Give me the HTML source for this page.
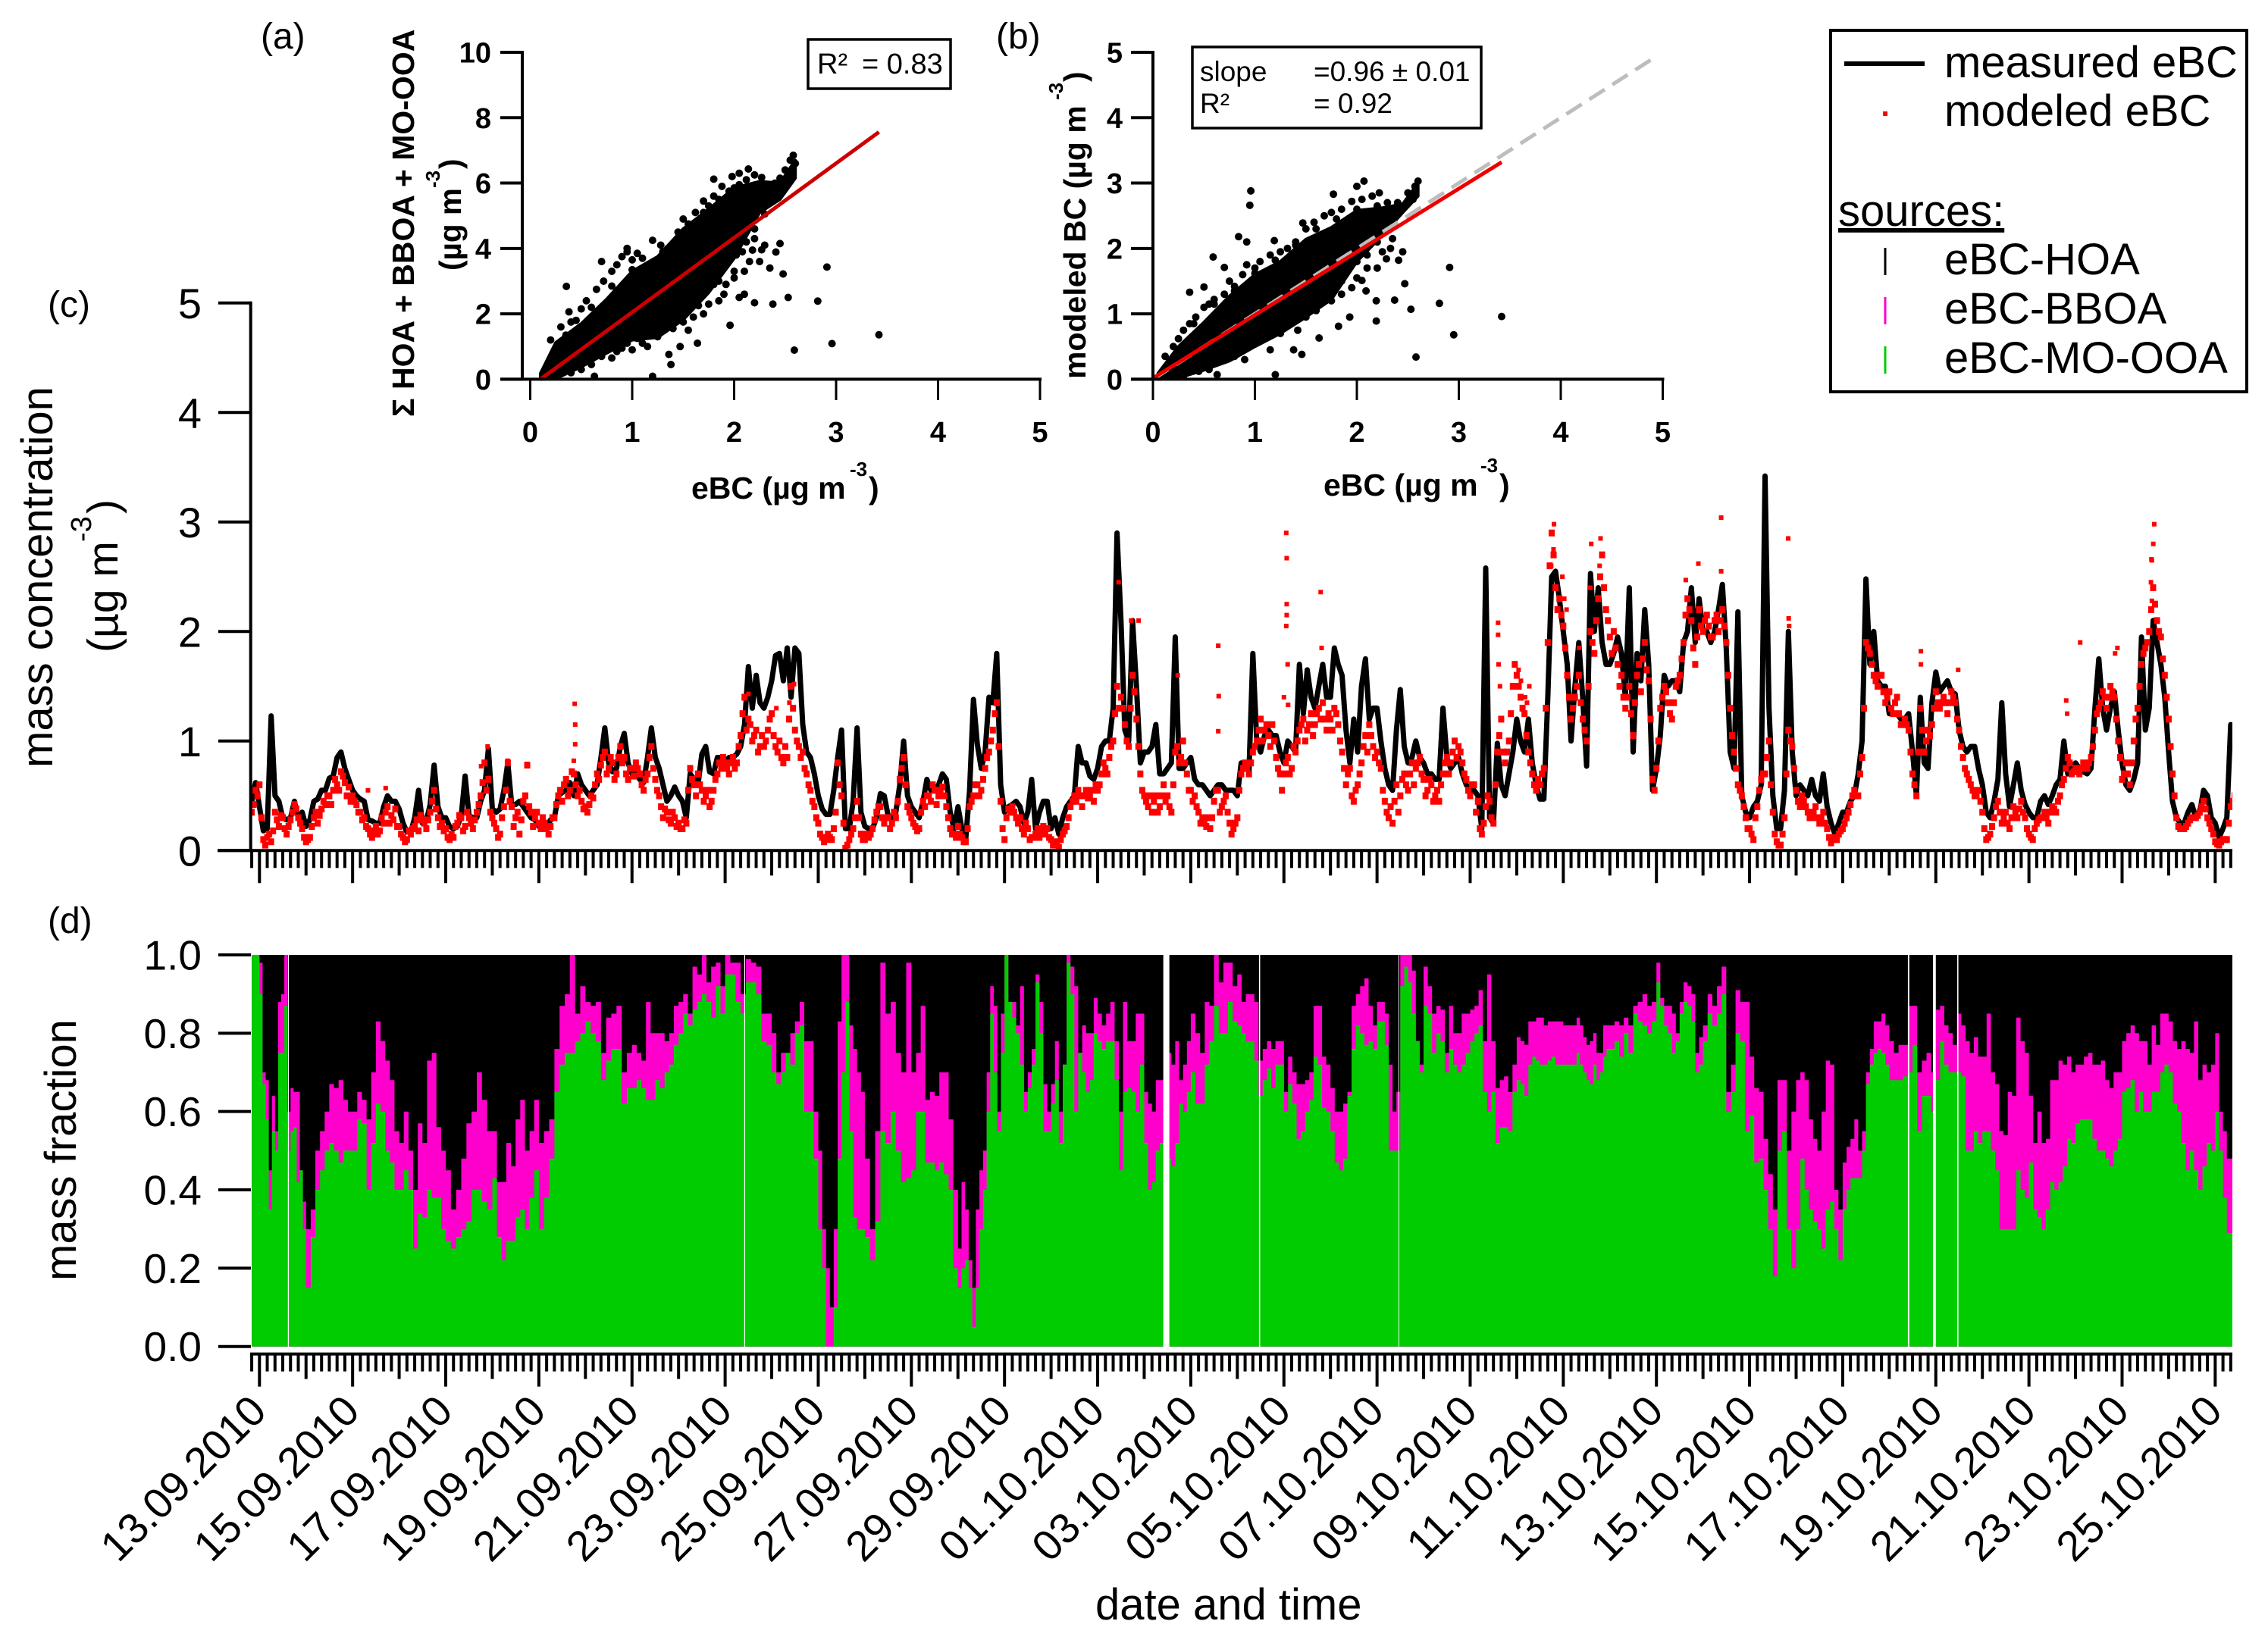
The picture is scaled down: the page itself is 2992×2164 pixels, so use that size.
<!DOCTYPE html>
<html lang="en">
<head>
<meta charset="utf-8">
<title>eBC source apportionment</title>
<style>
html,body{margin:0;padding:0;background:#fff}
svg{display:block}
text{font-family:"Liberation Sans",sans-serif;fill:#000}
.b{font-weight:bold}
</style>
</head>
<body>
<svg id="fig" xmlns="http://www.w3.org/2000/svg" width="2992" height="2164" viewBox="0 0 2992 2164">
<defs>
<clipPath id="clipTime"><rect x="330" y="300" width="2615" height="1500"/></clipPath>
</defs>
<rect width="2992" height="2164" fill="#fff"/>

<g id="panelD" clip-path="url(#clipTime)"></g>
<g id="panelDAxes"></g>
<g id="panelC" clip-path="url(#clipTime)"></g>
<g id="panelCAxes"></g>
<g id="panelA"></g>
<g id="panelB"></g>

<text x="344" y="64" font-size="48">(a)</text>
<text x="1314" y="64" font-size="48">(b)</text>
<text x="63" y="418" font-size="48">(c)</text>
<text x="63" y="1231" font-size="48">(d)</text>

<text class="b" font-size="41" transform="translate(546,550) rotate(-90)">Σ HOA + BBOA + MO-OOA</text>
<text class="b" font-size="40.5" transform="translate(608,357) rotate(-90)">(µg m</text>
<text class="b" font-size="26" transform="translate(580,248) rotate(-90)">-3</text>
<text class="b" font-size="40.5" transform="translate(608,223) rotate(-90)">)</text>
<text class="b" font-size="41" x="912" y="658">eBC (µg m</text>
<text class="b" font-size="26" x="1121" y="628">-3</text>
<text class="b" font-size="41" x="1146" y="658">)</text>

<text class="b" font-size="41" transform="translate(1432,500) rotate(-90)">modeled BC (µg m</text>
<text class="b" font-size="26" transform="translate(1402,132) rotate(-90)">-3</text>
<text class="b" font-size="40.5" transform="translate(1432,108) rotate(-90)">)</text>
<text class="b" font-size="41" x="1746" y="654">eBC (µg m</text>
<text class="b" font-size="26" x="1953" y="623">-3</text>
<text class="b" font-size="41" x="1978" y="654">)</text>

<rect x="1066" y="52" width="188" height="65" fill="#fff" stroke="#000" stroke-width="3.5"/>
<text x="1078" y="97" font-size="38">R²</text>
<text x="1137" y="97" font-size="38">= 0.83</text>

<rect x="1573" y="62" width="381" height="107" fill="#fff" stroke="#000" stroke-width="3.5"/>
<text x="1583" y="107" font-size="37">slope</text>
<text x="1733" y="107" font-size="37">=0.96 ± 0.01</text>
<text x="1583" y="149" font-size="37">R²</text>
<text x="1733" y="149" font-size="37">= 0.92</text>

<text font-size="58" transform="translate(69,1013) rotate(-90)">mass concentration</text>
<text font-size="57" transform="translate(155,861) rotate(-90)">(µg m</text>
<text font-size="38" transform="translate(120,715) rotate(-90)">-3</text>
<text font-size="57" transform="translate(155,678) rotate(-90)">)</text>
<text font-size="58" transform="translate(100,1690) rotate(-90)">mass fraction</text>
<text font-size="58" x="1445" y="2137">date and time</text>

<g>
<rect x="2415" y="40" width="549" height="477" fill="#fff" stroke="#000" stroke-width="4"/>
<line x1="2433" x2="2539" y1="84" y2="84" stroke="#000" stroke-width="6"/>
<text x="2565" y="102" font-size="58">measured eBC</text>
<rect x="2484" y="147" width="6" height="6" fill="#f00"/>
<text x="2565" y="166" font-size="58">modeled eBC</text>
<text x="2425" y="298" font-size="58" text-decoration="underline">sources:</text>
<line x1="2487" x2="2487" y1="327" y2="363" stroke="#000" stroke-width="3"/>
<text x="2565" y="362" font-size="58">eBC-HOA</text>
<line x1="2487" x2="2487" y1="392" y2="428" stroke="#f0c" stroke-width="3"/>
<text x="2565" y="427" font-size="58">eBC-BBOA</text>
<line x1="2487" x2="2487" y1="457" y2="493" stroke="#0c0" stroke-width="3"/>
<text x="2565" y="492" font-size="58">eBC-MO-OOA</text>
</g>
</svg>
<script>
// ---------- panel (c): rows are days; row 0 is the 4 h before 13.09.2010, last row is 25.10.2010
const measuredByDay = [
[.45,.62],
[.4,.18,.2,1.23,.5,.45,.3,.28,.3,.45,.3,.35],
[.22,.28,.45,.47,.55,.55,.66,.68,.85,.9,.75,.65],
[.55,.5,.47,.45,.28,.27,.25,.25,.4,.5,.45,.45],
[.38,.25,.17,.17,.3,.55,.25,.27,.42,.78,.4,.3],
[.3,.22,.2,.22,.32,.68,.32,.3,.3,.45,.55,.93],
[.38,.35,.38,.55,.8,.42,.42,.45,.4,.35,.3,.28],
[.22,.2,.2,.28,.3,.5,.53,.55,.62,.5,.7,.6],
[.55,.5,.55,.6,.85,1.12,.8,.72,.75,.95,1.07,.8],
[.7,.7,.65,.62,.85,1.12,.85,.75,.6,.45,.5,.58],
[.5,.45,.3,.7,.65,.6,.88,.95,.72,.7,.85,.85],
[.8,.85,.85,.88,.95,1.15,1.68,1.3,1.6,1.35,1.3,1.4],
[1.55,1.78,1.8,1.55,1.85,1.4,1.85,1.8,1.15,.9,.85,.7],
[.5,.38,.33,.33,.55,.85,1.1,.2,.2,.45,1.12,.35],
[.22,.2,.2,.3,.52,.5,.32,.3,.35,.6,1.0,.5],
[.4,.35,.3,.45,.65,.55,.55,.6,.7,.65,.35,.2],
[.4,.2,.1,.55,1.38,.97,.75,.9,1.4,1.35,1.8,.6],
[.35,.4,.42,.45,.4,.25,.35,.65,.2,.35,.45,.45],
[.2,.3,.15,.3,.4,.45,.5,.95,.8,.8,.68,.65],
[.75,.95,1.0,1.0,1.3,2.9,2.1,1.1,1.0,2.1,1.5,.8],
[.9,.9,.95,1.15,.7,.7,.75,.8,1.95,.75,.75,.8],
[.85,.65,.6,.6,.55,.5,.55,.6,.6,.55,.55,.55],
[.5,.8,.8,.72,1.8,1.0,.9,1.05,1.1,1.05,1.05,.9],
[.8,1.0,.95,.9,1.7,1.25,1.65,1.4,1.3,1.5,1.7,1.4],
[1.4,1.85,1.7,1.6,1.1,.8,1.2,.9,1.5,1.75,1.2,1.3],
[1.3,1.0,.75,.6,.55,1.1,1.47,.95,.8,.85,1.0,.85],
[.8,.7,.7,.65,.65,1.3,.85,.75,.8,.85,.7,.6],
[.55,.55,.5,.2,2.58,.3,.25,.98,.6,.5,.7,.9],
[1.2,1.0,.9,1.2,.8,.6,.47,.47,1.4,2.5,2.55,2.3],
[2.0,1.7,1.0,1.5,1.9,1.4,.77,2.53,2.0,2.4,1.9,1.7],
[1.7,1.8,1.95,1.8,1.4,2.4,.9,1.8,1.55,2.2,1.7,.55],
[.75,1.05,1.6,1.5,1.55,1.55,1.45,1.9,2.0,2.4,1.9,2.3],
[2.0,2.0,1.9,2.0,2.2,2.43,1.85,.9,.75,2.18,.5,.35],
[.3,.4,.45,.6,3.42,1.3,.5,.2,.2,.55,2.0,.9],
[.5,.6,.55,.5,.65,.5,.45,.7,.4,.25,.15,.25],
[.35,.35,.45,.5,.7,1.0,2.48,1.7,2.0,1.55,1.5,1.5],
[1.25,1.25,1.25,1.2,1.2,1.25,.9,.5,1.4,.8,.75,1.35],
[1.63,1.45,1.5,1.55,1.45,1.43,1.1,.95,.9,.95,.95,.75],
[.6,.35,.3,.45,.65,1.35,.7,.4,.6,.8,.55,.42],
[.35,.3,.3,.45,.5,.42,.5,.6,.65,1.0,.7,.75],
[.8,.75,.72,.7,.75,1.3,1.75,1.3,1.1,1.3,1.45,1.1],
[.8,.6,.55,.65,.8,1.95,1.1,1.3,2.1,1.9,1.7,1.4],
[.9,.45,.3,.25,.25,.35,.42,.3,.35,.55,.5,.3],
[.25,.12,.2,.3,1.15,1.1]
];
const modeledByDay = [
[.35,.55],
[.6,.1,.12,.08,.35,.22,.3,.15,.28,.42,.3,.2],
[.08,.12,.3,.25,.38,.42,.5,.55,.6,.72,.62,.58],
[.5,.42,.35,.3,.2,.12,.22,.18,.25,.4,.32,.38],
[.22,.12,.1,.15,.22,.18,.28,.2,.35,.55,.3,.25],
[.2,.1,.12,.25,.3,.22,.3,.2,.35,.5,.8,.65],
[.3,.2,.15,.4,.8,.4,.3,.15,.45,.78,.35,.3],
[.25,.3,.2,.22,.3,.5,.45,.65,.55,.7,.5,.45],
[.4,.42,.48,.7,.78,.9,.75,.8,.7,.95,.85,.65],
[.75,.8,.7,.55,.7,.95,.65,.5,.3,.35,.25,.3],
[.25,.2,.25,.75,.6,.7,.55,.5,.4,.55,.7,.75],
[.8,.7,.85,.8,1.05,1.4,1.2,1.0,1.1,.95,.95,1.1],
[1.25,.95,1.0,.8,.85,1.5,1.1,.95,.9,.7,.55,.4],
[.25,.12,.1,.12,.2,.8,.5,.02,.1,.2,.45,.15],
[.1,.12,.2,.35,.4,.25,.3,.25,.3,.65,.85,.4],
[.3,.22,.2,.45,.5,.45,.55,.5,.58,.4,.2,.15],
[.22,.12,.08,.4,.5,.6,.55,.75,.9,1.1,1.35,.45],
[.1,.38,.4,.3,.3,.15,.2,.12,.15,.12,.22,.2],
[.1,.08,.03,.15,.22,.4,.5,.55,.4,.55,.5,.45],
[.55,.7,.75,.85,1.0,1.5,1.4,1.15,.95,1.6,1.2,.7],
[.5,.4,.35,.5,.4,.6,.5,.35,.9,.8,1.0,.7],
[.55,.5,.35,.3,.22,.2,.45,.55,.4,.5,.25,.2],
[.3,.7,.8,.7,.9,1.0,1.2,1.1,1.05,1.15,.85,.7],
[.7,.85,.75,.9,1.1,1.2,1.1,1.25,1.15,1.3,1.35,1.1],
[1.2,1.3,1.15,.9,.6,.75,.45,.6,.8,1.05,1.15,.95],
[.9,.75,.45,.3,.25,.6,.5,.7,.55,.8,.75,.85],
[.65,.55,.6,.5,.45,.7,.85,.8,1.0,.95,.8,.65],
[.5,.6,.45,.15,.4,.45,.25,.9,1.2,.8,1.0,1.5],
[1.6,1.4,1.25,.9,.7,.55,.6,.75,1.9,2.9,2.4,2.3],
[2.05,1.6,1.2,1.4,1.6,1.2,1.0,2.0,1.8,2.3,2.7,2.2],
[1.95,2.0,1.7,1.6,1.3,1.5,1.05,1.6,1.45,1.9,1.55,.65],
[.75,1.3,1.5,1.35,1.2,1.5,1.6,1.9,2.3,2.1,1.7,2.2],
[2.0,2.15,1.95,2.1,2.0,2.2,1.9,1.3,.9,.6,.5,.3],
[.2,.1,.4,.65,.7,1.0,.35,.08,.05,.3,1.1,.95],
[.55,.4,.45,.35,.3,.4,.25,.35,.2,.07,.12,.15],
[.2,.3,.42,.55,.5,.85,1.9,1.8,1.6,1.5,1.6,1.35],
[1.45,1.25,1.4,1.15,1.2,1.1,.7,.5,1.3,.9,1.1,1.15],
[1.45,1.3,1.4,1.25,1.45,1.35,1.1,.85,.7,.6,.5,.55],
[.35,.1,.15,.3,.45,.25,.35,.2,.4,.3,.45,.3],
[.15,.1,.25,.3,.35,.25,.4,.35,.5,.65,.85,.7],
[.75,.7,.8,.75,.85,1.1,1.3,1.45,1.3,1.5,1.4,1.0],
[.65,.8,.6,1.0,1.3,1.7,1.85,2.0,2.4,2.1,1.95,1.6],
[1.2,.7,.3,.2,.2,.25,.3,.3,.35,.45,.3,.2],
[.08,.05,.1,.1,.4,.5]
];
// modeled readings taken one hour after those in modeledByDay
const modeledBetweenByDay = [
[.42,.5],
[.3,.05,.15,.18,.28,.32,.2,.22,.35,.38,.25,.12],
[.1,.22,.35,.32,.45,.5,.42,.65,.55,.68,.5,.45],
[.45,.35,.28,.22,.15,.18,.15,.3,.35,.25,.28,.22],
[.15,.08,.18,.2,.28,.32,.25,.28,.45,.38,.22,.18],
[.12,.15,.22,.32,.18,.35,.25,.28,.42,.62,.55,.35],
[.25,.12,.3,.55,.45,.22,.35,.28,.5,.4,.22,.35],
[.2,.25,.15,.3,.42,.55,.6,.5,.72,.6,.55,.38],
[.35,.5,.6,.65,.85,.7,.85,.65,.85,.8,.7,.75],
[.68,.75,.6,.65,.85,.75,.55,.4,.38,.28,.35,.22],
[.2,.28,.55,.65,.5,.6,.45,.55,.45,.65,.8,.85],
[.75,.8,.75,.95,1.25,1.1,1.15,1.05,.9,1.05,1.0,1.2],
[1.05,.9,.85,.95,1.2,1.3,1.0,.85,.75,.6,.45,.3],
[.15,.08,.15,.1,.35,.6,.25,.05,.15,.3,.3,.1],
[.15,.15,.28,.4,.3,.3,.2,.35,.45,.75,.6,.35],
[.25,.18,.35,.4,.5,.6,.42,.55,.5,.3,.15,.12],
[.15,.08,.2,.45,.6,.5,.65,.85,1.0,1.25,.95,.2],
[.3,.35,.35,.25,.2,.25,.1,.12,.2,.18,.15,.12],
[.05,.05,.1,.18,.3,.45,.45,.5,.5,.48,.55,.6],
[.6,.8,.7,.95,1.25,1.3,1.3,1.0,1.3,1.45,.95,.55],
[.45,.5,.45,.35,.5,.45,.4,.6,.95,.85,.8,.55],
[.45,.4,.25,.25,.3,.3,.55,.35,.45,.35,.15,.25],
[.55,.75,.75,.8,.95,1.1,1.0,1.15,.95,1.0,.75,.55],
[.8,.7,.95,1.0,1.15,1.0,1.15,1.05,1.25,1.2,1.2,1.25],
[1.1,1.25,1.0,.75,.7,.5,.55,.7,.95,.9,1.05,.85],
[.8,.55,.35,.4,.45,.35,.65,.6,.7,.6,.8,.7],
[.5,.65,.45,.55,.6,.8,.7,.9,.85,.9,.7,.55],
[.6,.35,.2,.25,.5,.3,.6,1.05,.9,.9,1.25,1.7],
[1.5,1.3,1.05,.8,.6,.65,.7,1.3,2.6,2.7,2.2,2.15],
[1.85,1.4,1.3,1.5,1.35,1.1,1.5,1.9,2.1,2.5,2.4,2.1],
[1.8,1.85,1.5,1.4,1.4,1.25,1.35,1.7,1.75,1.65,1.2,.55],
[1.0,1.4,1.45,1.25,1.35,1.55,1.75,2.15,2.2,1.85,1.95,2.05],
[2.1,2.05,1.95,2.15,2.1,2.05,1.6,1.05,.75,.55,.4,.2],
[.15,.3,.55,.7,.85,.6,.15,.05,.15,.7,1.0,.75],
[.45,.5,.4,.3,.35,.3,.3,.25,.12,.1,.1,.18],
[.25,.35,.5,.5,.7,1.3,1.85,1.7,1.55,1.6,1.45,1.4],
[1.3,1.35,1.25,1.15,1.15,.9,.6,.9,1.1,1.0,1.05,1.3],
[1.35,1.35,1.35,1.35,1.4,1.2,.95,.75,.65,.55,.5,.45],
[.2,.12,.22,.4,.35,.3,.25,.3,.35,.38,.35,.2],
[.12,.2,.28,.3,.3,.35,.38,.45,.6,.75,.8,.72],
[.72,.75,.78,.8,.95,1.25,1.35,1.4,1.4,1.45,1.2,.85],
[.7,.7,.8,1.2,1.5,1.8,1.9,2.2,2.25,2.0,1.75,1.4],
[.95,.5,.22,.2,.22,.28,.3,.32,.4,.38,.25,.15],
[.06,.08,.1,.25,.45,.5]
];
const outlierDays = [2.33,2.71,4.76,4.9,5.33,5.75,6.77,6.78,6.78,6.75,11.48,11.1,11.38,10.5,18.45,18.72,18.88,20.59,20.6,20.59,22.05,22.06,22.06,22.06,22.05,22.08,22.0,22.09,22.79,22.81,19.72,26.6,26.6,26.61,26.64,27.04,27.09,27.18,27.22,27.27,27.0,27.8,27.79,27.74,27.98,28.02,28.07,28.34,28.6,28.8,28.78,28.58,31.39,31.39,30.9,30.63,32.83,32.84,32.85,40.69,40.67,40.64,40.63,40.62,40.64,38.8,38.82,35.68,35.68,36.48,39.1,39.9,39.85];
const outlierValues = [.55,.57,.77,.95,.82,.78,1.34,1.15,.97,.82,1.52,1.3,1.35,1.43,2.45,2.1,2.1,1.87,1.41,1.09,2.9,2.67,2.25,2.15,2.05,1.7,1.4,1.33,2.36,1.85,1.6,2.08,1.97,1.7,1.5,1.65,1.55,1.4,1.35,1.5,1.6,2.98,2.75,2.6,2.5,2.3,2.2,1.85,2.8,2.85,2.6,2.4,3.04,2.55,2.62,2.47,2.85,2.12,2.05,2.98,2.8,2.65,2.66,2.45,2.28,1.37,1.25,1.82,1.7,1.65,1.9,1.85,1.8];
const concTicks = [0,1,2,3,4,5];

// ---------- panel (d): cumulative fractions, MO-OOA on the bottom, BBOA above it, HOA fills to 1
const ooaTopByDay = [
[1,1],
[.9,.67,.58,.35,.55,.5,.75,.75,.87,.5,.55,.56,.42,.45,.3],
[.15,.28,.4,.45,.5,.52,.5,.47,.5,.5],
[.5,.58,.57,.4,.52,.62,.6,.5,.47,.4],
[.4,.45,.4,.25,.34,.33,.4,.38,.38,.3],
[.27,.25,.28,.3,.32,.4,.4,.37,.35],
[.43,.28,.22,.27,.27,.33,.35,.3,.38,.45],
[.3,.38,.48,.65,.72,.75,.75,.78,.8],
[.83,.8,.78,.68,.73,.76,.76,.62,.66],
[.66,.68,.66,.63,.63,.68,.66,.7,.72,.77],
[.8,.85,.82,.86,.88,.9,.88,.84,.92,.85],
[.95,.95,.88,.85,.93,.93,.9,.78,.77],
[.7,.67,.7,.75,.72,.8,.82,.6,.6,.48],
[.3,.2,0,0,.1,.48,.7,.88,.55,.33,.3,.3],
[.28,.22,.32,.55,.52,.6,.5,.42,.43],
[.45,.6,.6,.47,.47,.45,.47,.44,.4,.2],
[.15,.2,.22,.15,.05,.15,.3,.4,.6,.85,.7,.55,.75],
[1,.88,.84,.8,.72,.6,.66,.72,.93,.8,.55,.55],
[.62,.68,.52,.72,.98,.9,.6,.75,.7,.65,.68,.8],
[.78,.76,.78,.78,.68,.45,.65,.66,.65,.6,.72],
[.52,.4,.42,.5,.52,.48,.48,.46,.52,.62,.6,.65],
[.7,.62,.62,.72,.78,.87,.8,.8,.88,.83],
[.82,.8,.78,.78,.73,.64,.68,.71,.66,.72,.72],
[.6,.67,.62,.53,.55,.6,.63,.74,.72,.61,.6],
[.55,.47,.45,.48,.64,.76,.82,.8,.77,.78,.76],
[.83,.83,.77,.5,.5,.5,.92,.97,.93,.85,.78,.7],
[.87,.85,.75,.8,.78,.7,.76,.72,.7,.72,.75],
[.78,.8,.82,.65,.6,.65,.52,.56,.56,.55,.65],
[.68,.67,.64,.72,.74,.73,.72,.72,.73,.74,.72,.72],
[.72,.72,.72,.72,.75,.72,.7,.68,.67,.72,.68,.7,.74,.76],
[.76,.78,.74,.8,.75,.85,.83,.82,.8,.83],
[.93,.87,.82,.8,.75,.78,.85,.88,.87,.83,.7,.72],
[.78,.85,.82,.85,.9,.6,.65,.8,.78,.55],
[.59,.47,.48,.4,.3,.18,.5,.55,.3,.2],
[.3,.48,.4,.35,.32,.3,.25,.35,.37,.3,.22],
[.35,.4,.43,.43,.43,.5,.67,.72,.75,.76,.75,.72],
[.68,.68,.68,.69,.7,.77,.55,.64,.64,.6],
[.68,.78,.72,.7,.7,.7,.69,.5,.5,.55,.52],
[.55,.55,.5,.45,.3,.3,.3,.3,.45,.4,.38],
[.47,.35,.33,.3,.35,.42,.4,.42,.46,.53,.52],
[.57,.58,.58,.58,.53,.5,.5,.48,.46,.5,.53],
[.65,.66,.68,.6,.65,.6,.6,.65,.65,.7,.72],
[.7,.62,.6,.52,.45,.5,.45,.4,.46,.52,.5],
[.6,.5,.38,.29,.29]
];
const bboaTopByDay = [
[1,1],
[.98,.7,.68,.45,.64,.55,.88,.9,1,.6,.66,.65,.65,.45,.37],
[.3,.35,.5,.55,.6,.67,.66,.68,.63,.6],
[.6,.65,.63,.58,.7,.83,.78,.73,.68,.55],
[.52,.6,.5,.4,.57,.52,.73,.75,.56,.5],
[.45,.35,.4,.48,.57,.6,.7,.63,.55],
[.55,.42,.42,.52,.46,.58,.63,.5,.55,.63],
[.52,.55,.58,.76,.87,.9,1,.85,.92],
[.88,.87,.88,.75,.84,.85,.87,.7,.75],
[.77,.75,.73,.88,.8,.8,.8,.78,.8,.87],
[.88,.9,.85,.97,.95,1,.93,.97,.98,.92],
[1,.98,.98,.9,.99,.98,.97,.85,.85],
[.8,.7,.75,.75,.8,.83,.88,.78,.78,.6],
[.5,.3,.2,.1,.3,.83,1,1,.82,.76,.7,.65],
[.48,.3,.55,.98,.85,.88,.75,.7,.98],
[.7,.75,.87,.63,.65,.64,.7,.7,.58,.4],
[.25,.42,.35,.22,.15,.35,.45,.5,.7,.92,.87,.6,.85],
[1,.88,.88,.82,.92,.65,.7,.76,.95,.88,.67,.6],
[.67,.78,.6,.72,1,.97,.92,.75,.82,.8,.8,.89],
[.85,.82,.85,.88,.78,.6,.88,.78,.78,.85,.85],
[.65,.62,.6,.68,.68,.7,.75,.72,.78,.68,.72,.78],
[.85,.8,.75,.88,.87,1,.93,.98,.98,.92],
[.95,.88,.9,.9,.88,.73,.76,.78,.76,.78,.78],
[.65,.74,.7,.67,.67,.68,.7,.87,.87,.74,.72],
[.66,.6,.6,.62,.65,.87,.9,.92,.94,.87,.82],
[.88,.88,.85,.72,.6,.65,1,1,1,.96,.78,.72],
[.97,.92,.85,.87,.86,.75,.87,.8,.8,.85,.85],
[.86,.87,.91,.78,.95,.78,.66,.68,.69,.65,.72],
[.79,.78,.77,.83,.83,.84,.84,.82,.83,.83,.83,.83],
[.82,.82,.82,.82,.84,.82,.79,.77,.78,.8,.75,.75,.82,.82],
[.82,.83,.82,.84,.82,.87,.88,.9,.87,.88],
[.98,.89,.87,.87,.85,.8,.88,.93,.92,.9,.75,.79],
[.82,.9,.87,.92,.97,.65,.72,.91,.88,.88],
[.74,.66,.65,.53,.44,.35,.68,.68,.5,.6],
[.68,.7,.68,.58,.53,.5,.6,.73,.72,.4,.35],
[.47,.51,.53,.58,.5,.55,.7,.76,.83,.83,.85,.82],
[.78,.75,.77,.77,.87,.87,.7,.73,.75,.7],
[.86,.87,.82,.8,.77,.85,.82,.78,.75,.79,.74],
[.74,.85,.7,.67,.55,.54,.65,.64,.84,.78,.75],
[.64,.52,.6,.52,.53,.68,.68,.73,.72,.74,.7],
[.72,.72,.74,.75,.72,.72,.73,.68,.66,.7,.7],
[.78,.8,.82,.8,.78,.78,.72,.82,.77,.85,.85],
[.83,.78,.76,.78,.76,.75,.83,.68,.72,.7,.72],
[.8,.6,.55,.48,.48]
];
const gapStartDays = [.61,10.41,19.41,21.465,24.46,35.4,35.94,36.46];
const gapEndDays = [.63,10.43,19.54,21.49,24.475,35.43,36.0,36.485];
const fractionTicks = [0,.2,.4,.6,.8,1];
const fractionTickLabels = ['0.0','0.2','0.4','0.6','0.8','1.0'];
const dateLabels = ['13.09.2010','15.09.2010','17.09.2010','19.09.2010','21.09.2010','23.09.2010','25.09.2010','27.09.2010','29.09.2010','01.10.2010','03.10.2010','05.10.2010','07.10.2010','09.10.2010','11.10.2010','13.10.2010','15.10.2010','17.10.2010','19.10.2010','21.10.2010','23.10.2010','25.10.2010'];

// ---------- panel (a) scatter
const coreAEbc = [.1,.25,.5,.75,1,1.25,1.5,1.75,2,2.25,2.45,2.6];
const coreAUpper = [.18,1.12,1.7,2.45,3.3,3.75,4.6,5.2,5.85,6.05,6.0,6.7];
const coreALower = [0,.02,.38,.8,1.2,1.28,1.82,2.65,3.7,5.1,5.5,6.15];
const scatterAEbc = [.355,.38,.7,.95,1.8,1.98,2.14,2.05,2.27,2.91,2.82,2.53,2.38,2.2,2.48,2.45,2.27,2.41,1.96,1.64,1.47,1.36,1.38,1.2,.63,3.42,2.96,2.59,.2,.3,.4,.5,.55,.65,.72,.8,.85,.9,.95,1,1.05,1.1,1.2,1.28,1.35,1.45,1.5,1.55,1.62,1.7,1.75,1.8,1.88,1.95,2.05,2.12,2.2,2.3,2.4,2.5,2.55,2.58,2.6,2.52,.4,.5,.6,.7,.8,.9,1,1.1,1.15,1.25,1.3,1.4,1.5,1.55,1.6,1.7,1.75,1.85,1.9,1.92,2,2.05,2.1,2,2.1,2.15,1.95,2.02,2.08,2.12,2.18,2.25,2.35,2.3,2.2,2.2,2.15,2.3,1.6,1.7,1.8,1.65,1.45,1.35,1.2,1.05,.95,.85,.6,1,.8,.6,.45,.35,1.3,1.5,1.7,1.85,2,2.2,2.35,2.45,1.9,1.85,2,2.1,2.2,2.3];
const scatterASum = [2.84,2.06,3.6,4,6.12,6.2,6.43,6.3,6.17,3.43,2.39,2.5,2.3,2.34,3.22,4.15,3.96,3.89,1.65,1.1,1,.76,.45,.09,.09,1.36,1.09,.89,1.2,1.6,1.75,2.15,2.4,2.75,3,3.3,3.5,3.75,3.9,3.65,3.85,3.7,4.25,4.1,4,4.5,4.9,4.75,5.1,5.45,5.3,5.6,5.9,5.75,5.95,6.1,6.25,5.9,6,6.4,6.7,6.85,6.6,6.1,.2,.3,.45,.7,.65,.95,.9,1.1,1,1.3,1.55,1.55,1.75,1.5,1.9,2,2.3,2.4,2.6,2.9,3.1,2.5,2.6,3.3,3.3,3.6,3.7,3.8,3.9,4.2,3.95,3.6,3.4,4.1,4.3,4.6,4.7,5.05,2.6,2.7,2.9,2.25,1.95,1.75,1.45,1.25,1.1,.85,.6,3.35,2.85,2.2,1.8,1.35,3.9,4.5,5.1,5.5,5.85,5.9,5.85,6.15,3.4,3,4.2,4.6,5,5.3];
const fitAEbc = [.1,3.42];
const fitASum = [0,7.56];
const axisATicksY = [0,2,4,6,8,10];
const scatterTicksX = [0,1,2,3,4,5];

// ---------- panel (b) scatter
const coreBEbc = [.05,.25,.5,.75,1,1.25,1.5,1.75,2,2.25,2.45,2.6];
const coreBUpper = [.09,.5,.87,1.27,1.6,1.8,2.14,2.32,2.58,2.62,2.68,3.0];
const coreBLower = [0,.02,.14,.28,.5,.7,.95,1.22,1.8,2.2,2.55,2.8];
const scatterBEbc = [.96,.95,2.07,1.77,.84,.92,1.19,.59,.7,.36,.5,1.47,2.91,2.81,2.47,3.42,2.95,2.53,2.37,2.19,2.19,2.58,1.82,1.93,1.46,1.38,1.2,.63,1.63,2.45,2.41,2.29,2.33,2.05,2.09,.12,.2,.25,.3,.36,.42,.5,.55,.6,.7,.75,.8,.88,.92,1,1.05,1.15,1.25,1.32,1.4,1.5,1.58,1.68,1.75,1.85,1.95,2.05,2.15,2.3,2.4,2.5,2.57,2.6,2.55,2,2.22,.3,.45,.55,.62,.72,.8,.9,1,1.05,1.15,1.25,1.35,1.42,1.5,1.6,1.75,1.85,1.95,2,2.1,2.2,2.25,2.35,.4,.6,.8,1,1.2,1.4,1.6,1.8,2,2.2,2.4,1.7,1.6,1.5,1.3,1.1,.95,.75,.5,1.85,2,2.1,2.2,2.3];
const scatterBModeled = [2.88,2.66,3.03,2.83,2.18,2.1,2.12,1.87,1.71,1.33,1.41,2.39,1.71,1.16,1.46,.96,.68,1.07,1.21,1.2,.89,.34,.81,.95,.38,.45,.07,.07,.63,1.95,1.82,1.84,2,1.51,1.35,.35,.5,.62,.75,.85,.95,1.1,1.15,1.22,1.3,1.5,1.42,1.6,1.75,1.7,1.8,1.9,1.95,2,2.1,2.3,2.4,2.5,2.55,2.6,2.72,2.75,2.8,2.7,2.65,2.85,2.95,3.03,2.75,2.95,2.85,.05,.12,.15,.25,.3,.35,.3,.55,.6,.45,.7,.85,.75,.95,1.05,1.2,1.3,1.4,1.55,1.7,1.7,1.95,2.15,.85,1.15,1.35,1.62,1.82,2.05,2.3,2.45,2.6,2.65,2.7,1.35,1.2,1.05,.85,.7,.55,.38,.2,1.5,1.8,1.9,2.1,2.3];
const fitBEbc = [.015,3.42];
const fitBModeled = [.03,3.32];
const oneToOneEbc = [0,4.9];
const oneToOneModeled = [0,4.9];
const axisBTicksY = [0,1,2,3,4,5];

// ---------- axis functions
const xDay = d => 342.3 + 61.43 * d;
const yConc = v => 1122.3 - 144.5 * v;
const yFrac = f => 1776.7 - 516.7 * f;
const xA = v => 699.5 + 134.5 * v;
const yA = v => 500.4 - 43.14 * v;
const xB = v => 1521 + 134.5 * v;
const yB = v => 500.4 - 86.28 * v;

const NS = 'http://www.w3.org/2000/svg';
function mk(tag, attrs, parent, txt) {
  const el = document.createElementNS(NS, tag);
  for (const k in attrs) el.setAttribute(k, attrs[k]);
  if (txt !== undefined) el.textContent = txt;
  parent.appendChild(el);
  return el;
}
function samples(rows) {
  const out = [];
  rows.forEach((row, k) => {
    row.forEach((v, j) => {
      let t, dt;
      if (k === 0) { t = -(row.length - j) / 12; dt = 1 / 12; }
      else if (k === rows.length - 1) { t = 42 + j / 12; dt = 1 / 12; }
      else { t = k - 1 + j / row.length; dt = 1 / row.length; }
      out.push({ t, dt, v });
    });
  });
  return out;
}
function stepArea(list, yOf) {
  let d = 'M' + xDay(list[0].t).toFixed(1) + ' ' + yFrac(0);
  list.forEach(s => {
    d += 'V' + yOf(s.v).toFixed(1) + 'H' + xDay(s.t + s.dt).toFixed(1);
  });
  return d + 'V' + yFrac(0) + 'Z';
}
function timeTicks(parent, yTop) {
  for (let i = -1; i <= 254; i++) {
    const day = i / 6;
    const isDay = i % 6 === 0;
    const isLong = i % 12 === 0;
    const len = isLong ? 43 : (isDay ? 33 : 23);
    const tick = mk('line', { x1: xDay(day), x2: xDay(day), y1: yTop, y2: yTop + len, stroke: '#000', 'stroke-width': 4 }, parent);
    
    
  }
}

// ---------- panel (d)
const gD = document.getElementById('panelD');
const axD = document.getElementById('panelDAxes');
const ooaList = samples(ooaTopByDay);
const bboaList = samples(bboaTopByDay);
const hoaLayer = mk('path', { d: stepArea(bboaList, () => yFrac(1)), fill: '#000' }, gD);


const bboaLayer = mk('path', { d: stepArea(bboaList, yFrac), fill: '#ff00cc' }, gD);


const ooaLayer = mk('path', { d: stepArea(ooaList, yFrac), fill: '#00cc00' }, gD);


gapStartDays.forEach((g, i) => {
  const gap = mk('rect', { x: xDay(g), width: xDay(gapEndDays[i]) - xDay(g), y: yFrac(1) - 1, height: yFrac(0) - yFrac(1) + 2, fill: '#fff' }, gD);
  
  
});
fractionTicks.forEach((f, i) => {
  const tick = mk('line', { x1: 288, x2: 331, y1: yFrac(f), y2: yFrac(f), stroke: '#000', 'stroke-width': 4 }, axD);
  
  
  const lab = mk('text', { x: 266, y: yFrac(f) + 19.5, 'text-anchor': 'end', 'font-size': 55 }, axD, fractionTickLabels[i]);
  
  
});
const axisLineD = mk('line', { x1: 330, x2: 2945, y1: 1786.6, y2: 1786.6, stroke: '#000', 'stroke-width': 4 }, axD);


timeTicks(axD, 1786.6);
dateLabels.forEach((txt, i) => {
  const bx = xDay(i * 2) + 12;
  const lab = mk('text', { 'text-anchor': 'end', 'font-size': 56, transform: 'translate(' + bx + ',1865) rotate(-45)' }, axD, txt);
  
  
});

// ---------- panel (c)
const gC = document.getElementById('panelC');
const axC = document.getElementById('panelCAxes');
const measuredList = samples(measuredByDay);
let measuredPath = '';
measuredList.forEach((s, i) => {
  measuredPath += (i ? 'L' : 'M') + xDay(s.t).toFixed(1) + ' ' + yConc(s.v).toFixed(1);
});
const measuredLine = mk('path', { d: measuredPath, fill: 'none', stroke: '#000', 'stroke-width': 7, 'stroke-linejoin': 'round' }, gC);


samples(modeledByDay).forEach(s => {
  const dot = mk('rect', { x: xDay(s.t) - 4, y: yConc(s.v) - 4.5, width: 8, height: 9, fill: '#f00' }, gC);
  
  
});
samples(modeledBetweenByDay).forEach(s => {
  const dot = mk('rect', { x: xDay(s.t + 1 / 24) - 4, y: yConc(s.v) - 4.5, width: 8, height: 9, fill: '#f00' }, gC);
  
  
});
outlierDays.forEach((d, i) => {
  const dot = mk('rect', { x: xDay(d) - 3, y: yConc(outlierValues[i]) - 3, width: 6, height: 6, fill: '#f00' }, gC);
  
  
});
const yAxisC = mk('line', { x1: 330.7, x2: 330.7, y1: yConc(5) - 2, y2: yConc(0), stroke: '#000', 'stroke-width': 4 }, axC);


const xAxisC = mk('line', { x1: 287, x2: 2945, y1: yConc(0), y2: yConc(0), stroke: '#000', 'stroke-width': 4 }, axC);


concTicks.forEach(v => {
  const tick = mk('line', { x1: 288, x2: 331, y1: yConc(v), y2: yConc(v), stroke: '#000', 'stroke-width': 4 }, axC);
  
  
  const lab = mk('text', { x: 266, y: yConc(v) + 20, 'text-anchor': 'end', 'font-size': 56 }, axC, String(v));
  
  
});
timeTicks(axC, yConc(0));

// ---------- scatter helpers
function polyCore(parent, xs, up, lo, fx, fy) {
  let d = '';
  xs.forEach((x, i) => { d += (i ? 'L' : 'M') + fx(x).toFixed(1) + ' ' + fy(up[i]).toFixed(1); });
  for (let i = xs.length - 1; i >= 0; i--) d += 'L' + fx(xs[i]).toFixed(1) + ' ' + fy(lo[i]).toFixed(1);
  const core = mk('path', { d: d + 'Z', fill: '#000', stroke: '#000', 'stroke-width': 4, 'stroke-linejoin': 'round' }, parent);
  
  
}
function dots(parent, xs, ys, fx, fy) {
  xs.forEach((x, i) => {
    const dot = mk('circle', { cx: fx(x).toFixed(1), cy: fy(ys[i]).toFixed(1), r: 5, fill: '#000' }, parent);
    
    
  });
}
function scatterAxes(parent, yAxisX, xZero, fx, fy, ticksY, yLabelRight, tickLeft) {
  const yAxis = mk('line', { x1: yAxisX, x2: yAxisX, y1: fy(ticksY[ticksY.length - 1]) - 2, y2: fy(0), stroke: '#000', 'stroke-width': 4 }, parent);
  
  
  const xAxis = mk('line', { x1: tickLeft, x2: fx(5) + 2, y1: fy(0), y2: fy(0), stroke: '#000', 'stroke-width': 4 }, parent);
  
  
  ticksY.forEach(v => {
    const tick = mk('line', { x1: tickLeft, x2: yAxisX, y1: fy(v), y2: fy(v), stroke: '#000', 'stroke-width': 4 }, parent);
    
    
    const lab = mk('text', { x: yLabelRight, y: fy(v) + 13.6, 'text-anchor': 'end', 'font-size': 38, 'font-weight': 'bold' }, parent, String(v));
    
    
  });
  scatterTicksX.forEach(v => {
    const tick = mk('line', { x1: fx(v), x2: fx(v), y1: fy(0), y2: 528, stroke: '#000', 'stroke-width': 3 }, parent);
    
    
    const lab = mk('text', { x: fx(v), y: 583, 'text-anchor': 'middle', 'font-size': 38, 'font-weight': 'bold' }, parent, String(v));
    
    
  });
}

// ---------- panel (a)
const gA = document.getElementById('panelA');
polyCore(gA, coreAEbc, coreAUpper, coreALower, xA, yA);
dots(gA, scatterAEbc, scatterASum, xA, yA);
const fitA = mk('line', { x1: xA(fitAEbc[0]), y1: yA(fitASum[0]), x2: xA(fitAEbc[1]), y2: yA(fitASum[1]), stroke: '#cc0000', 'stroke-width': 5 }, gA);


scatterAxes(gA, 689, 699.5, xA, yA, axisATicksY, 648, 660);

// ---------- panel (b)
const gB = document.getElementById('panelB');
polyCore(gB, coreBEbc, coreBUpper, coreBLower, xB, yB);
dots(gB, scatterBEbc, scatterBModeled, xB, yB);
const refB = mk('line', { x1: xB(oneToOneEbc[0]), y1: yB(oneToOneModeled[0]), x2: xB(oneToOneEbc[1]), y2: yB(oneToOneModeled[1]), stroke: '#bdbdbd', 'stroke-width': 5, 'stroke-dasharray': '24 12' }, gB);


const fitB = mk('line', { x1: xB(fitBEbc[0]), y1: yB(fitBModeled[0]), x2: xB(fitBEbc[1]), y2: yB(fitBModeled[1]), stroke: '#ee0000', 'stroke-width': 5 }, gB);


scatterAxes(gB, 1521, 1521, xB, yB, axisBTicksY, 1481, 1492);
</script>
</body>
</html>
